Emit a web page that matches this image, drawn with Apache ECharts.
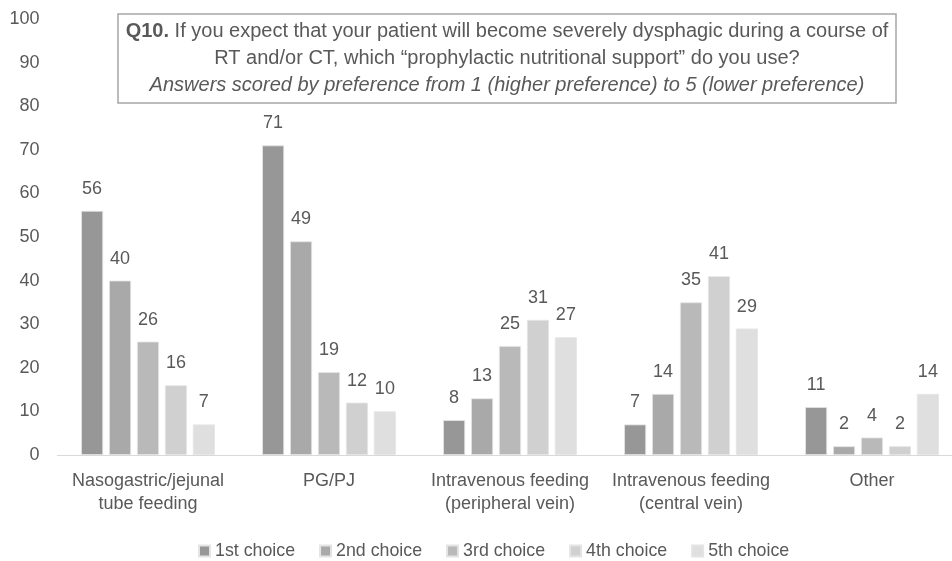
<!DOCTYPE html>
<html><head><meta charset="utf-8">
<script src="https://cdn.jsdelivr.net/npm/echarts@6/dist/echarts.min.js"></script>
<style>html,body{margin:0;padding:0;background:#fff}#c{width:952px;height:561px}</style>
</head><body><div id="c"></div>
<script>
const categories = ['Nasogastric/jejunal\ntube feeding', 'PG/PJ', 'Intravenous feeding\n(peripheral vein)', 'Intravenous feeding\n(central vein)', 'Other'];
const seriesNames = ['1st choice', '2nd choice', '3rd choice', '4th choice', '5th choice'];
const first = [56, 71, 8, 7, 11];
const second = [40, 49, 13, 14, 2];
const third = [26, 19, 25, 35, 4];
const fourth = [16, 12, 31, 41, 2];
const fifth = [7, 10, 27, 29, 14];
const yTicks = [0, 10, 20, 30, 40, 50, 60, 70, 80, 90, 100];
const colors = ['#979797', '#a9a9a9', '#b9b9b9', '#d0d0d0', '#dfdfdf'];
const values = [first, second, third, fourth, fifth];
const FONT = '"Liberation Sans", Arial, sans-serif';
const TXT = '#595959';

const chart = echarts.init(document.getElementById('c'));
chart.setOption({
  animation: false,
  textStyle: { fontFamily: FONT },
  title: {
    text: '{b|Q10.} If you expect that your patient will become severely dysphagic during a course of\nRT and/or CT, which “prophylactic nutritional support” do you use?\n{i|Answers scored by preference from 1 (higher preference) to 5 (lower preference)}',
    left: 499, top: 14, textAlign: 'center',
    padding: [4, 8, 4, 8],
    borderColor: '#a6a6a6', borderWidth: 1.5, backgroundColor: '#fff',
    textStyle: {
      fontFamily: FONT, fontSize: 20, fontWeight: 'normal', color: TXT, lineHeight: 27,
      rich: {
        b: { fontFamily: FONT, fontSize: 20, fontWeight: 'bold', color: TXT, lineHeight: 27 },
        i: { fontFamily: FONT, fontSize: 20, fontStyle: 'italic', color: TXT, lineHeight: 27 }
      }
    }
  },
  legend: {
    data: seriesNames, top: 537, left: 193,
    icon: 'rect', itemWidth: 11, itemHeight: 11, itemGap: 24,
    textStyle: { fontFamily: FONT, fontSize: 17.8, color: TXT }
  },
  grid: { left: 57.5, width: 905, top: 19, bottom: 106, containLabel: false, outerBoundsMode: 'none' },
  xAxis: {
    type: 'category', data: categories,
    axisLine: { lineStyle: { color: '#d9d9d9', width: 1 } },
    axisTick: { show: false },
    axisLabel: { fontFamily: FONT, fontSize: 18, color: TXT, lineHeight: 23, margin: 15, interval: 0 }
  },
  yAxis: {
    type: 'value', min: 0, max: 100, interval: 10,
    axisLine: { show: false }, axisTick: { show: false },
    splitLine: { show: false },
    axisLabel: { fontFamily: FONT, fontSize: 18, color: TXT, margin: 18 }
  },
  series: values.map((v, i) => ({
    name: seriesNames[i], type: 'bar', data: v,
    barWidth: 22, barGap: '27%',
    itemStyle: { color: colors[i], borderColor: '#e4e4e4', borderWidth: 0.8 },
    label: { show: true, position: 'top', distance: 13, fontFamily: FONT, fontSize: 18, color: TXT }
  }))
});
</script></body></html>
